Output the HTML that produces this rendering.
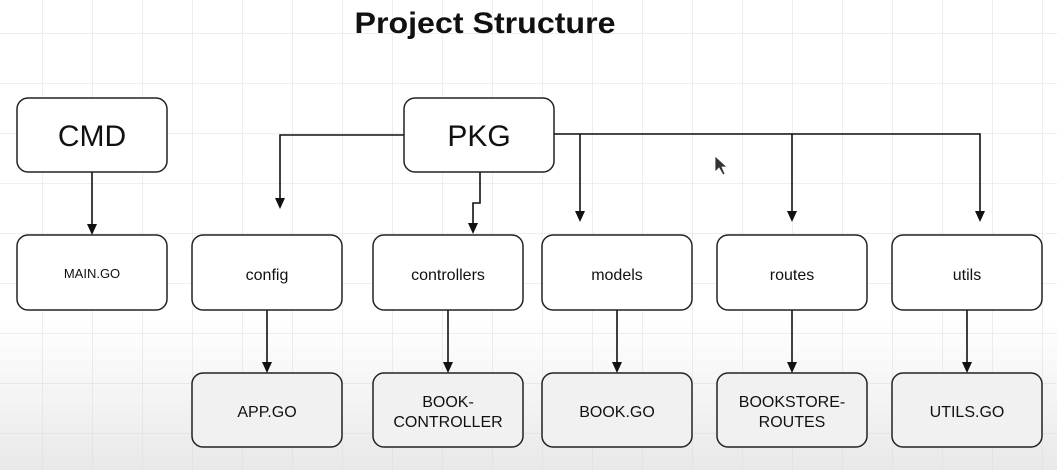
<!DOCTYPE html>
<html><head><meta charset="utf-8"><style>
html,body{margin:0;padding:0;background:#fff;}
svg{display:block;font-family:"Liberation Sans",Arial,sans-serif;}
</style></head><body>
<svg width="1057" height="470" viewBox="0 0 1057 470" xmlns="http://www.w3.org/2000/svg">
<defs>
<linearGradient id="bg" x1="0" y1="0" x2="0" y2="1">
<stop offset="0" stop-color="#ffffff"/>
<stop offset="0.68" stop-color="#ffffff"/>
<stop offset="1" stop-color="#e9e9e9"/>
</linearGradient>
<pattern id="grid" x="42" y="33" width="50" height="50" patternUnits="userSpaceOnUse">
<path d="M0 0H50M0 0V50" stroke="#dcdcdc" stroke-width="1" fill="none"/>
</pattern>
<marker id="ah" markerWidth="10" markerHeight="12" refX="5" refY="11" orient="auto-start-reverse" markerUnits="userSpaceOnUse" viewBox="0 0 10 12">
</marker>
</defs>
<rect width="1057" height="470" fill="url(#bg)"/>
<rect width="1057" height="470" fill="url(#grid)"/>
<text x="485" y="33" font-size="30" font-weight="bold" text-anchor="middle" fill="#111" textLength="261" lengthAdjust="spacingAndGlyphs">Project Structure</text>

<g stroke="#111" stroke-width="1.6" fill="none">
<path d="M92 172V225"/>
<path d="M404 135H280V200"/>
<path d="M480 172V203H473V225"/>
<path d="M554 134H980V212"/>
<path d="M580 134V212"/>
<path d="M792 134V212"/>
<path d="M267 310V363"/>
<path d="M448 310V363"/>
<path d="M617 310V363"/>
<path d="M792 310V363"/>
<path d="M967 310V363"/>
</g>
<g fill="#111">
<path d="M87 224L97 224L92 235Z"/>
<path d="M275 198L285 198L280 209Z"/>
<path d="M468 223L478 223L473 234Z"/>
<path d="M575 211L585 211L580 222Z"/>
<path d="M787 211L797 211L792 222Z"/>
<path d="M975 211L985 211L980 222Z"/>
<path d="M262 362L272 362L267 373Z"/>
<path d="M443 362L453 362L448 373Z"/>
<path d="M612 362L622 362L617 373Z"/>
<path d="M787 362L797 362L792 373Z"/>
<path d="M962 362L972 362L967 373Z"/>
</g>

<g stroke="#222" stroke-width="1.5" fill="#fff">
<rect x="17" y="98" width="150" height="74" rx="11"/>
<rect x="404" y="98" width="150" height="74" rx="11"/>
<rect x="17" y="235" width="150" height="75" rx="11"/>
<rect x="192" y="235" width="150" height="75" rx="11"/>
<rect x="373" y="235" width="150" height="75" rx="11"/>
<rect x="542" y="235" width="150" height="75" rx="11"/>
<rect x="717" y="235" width="150" height="75" rx="11"/>
<rect x="892" y="235" width="150" height="75" rx="11"/>
</g>
<g stroke="#222" stroke-width="1.5" fill="#f1f1f1">
<rect x="192" y="373" width="150" height="74" rx="11"/>
<rect x="373" y="373" width="150" height="74" rx="11"/>
<rect x="542" y="373" width="150" height="74" rx="11"/>
<rect x="717" y="373" width="150" height="74" rx="11"/>
<rect x="892" y="373" width="150" height="74" rx="11"/>
</g>

<g fill="#111" text-anchor="middle">
<text x="92" y="146" font-size="30">CMD</text>
<text x="479" y="146" font-size="30">PKG</text>
<text x="92" y="278" font-size="13">MAIN.GO</text>
<text x="267" y="280" font-size="16">config</text>
<text x="448" y="280" font-size="16">controllers</text>
<text x="617" y="280" font-size="16">models</text>
<text x="792" y="280" font-size="16">routes</text>
<text x="967" y="280" font-size="16">utils</text>
<text x="267" y="417" font-size="16">APP.GO</text>
<text x="448" y="407" font-size="16">BOOK-</text>
<text x="448" y="427" font-size="16">CONTROLLER</text>
<text x="617" y="417" font-size="16">BOOK.GO</text>
<text x="792" y="407" font-size="16">BOOKSTORE-</text>
<text x="792" y="427" font-size="16">ROUTES</text>
<text x="967" y="417" font-size="16">UTILS.GO</text>
</g>
<path d="M715 156L715 172L719 168L723 175L725 174L722 167L727 167Z" fill="#333" stroke="#fff" stroke-width="0.8"/>
</svg>
</body></html>
